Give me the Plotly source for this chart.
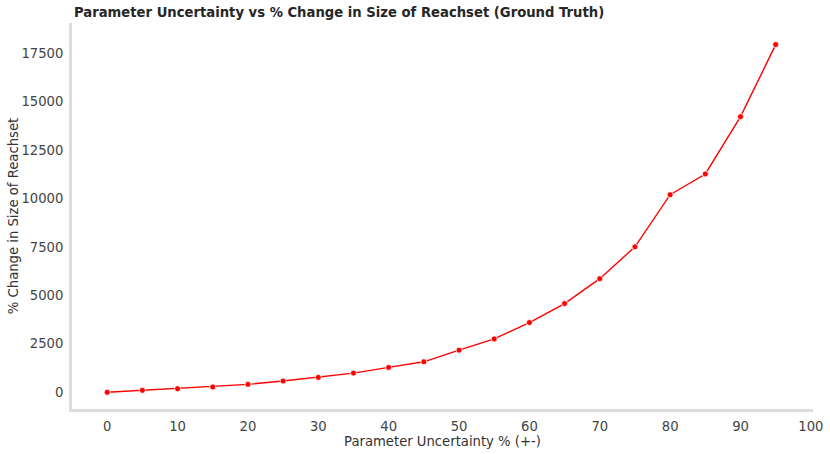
import plotly.graph_objects as go

uncertainty = [0, 5, 10, 15, 20, 25, 30, 35, 40, 45, 50, 55, 60, 65, 70, 75, 80, 85, 90, 95]
pct_change = [0, 100, 185, 275, 410, 580, 770, 990, 1285, 1575, 2175, 2755, 3600, 4580, 5865, 7510, 10200, 11270, 14230, 17950]

x_ticks = [0, 10, 20, 30, 40, 50, 60, 70, 80, 90, 100]
y_ticks = [0, 2500, 5000, 7500, 10000, 12500, 15000, 17500]

fig = go.Figure()
fig.add_trace(go.Scatter(
    x=uncertainty, y=pct_change, mode="lines+markers",
    line=dict(color="red", width=1.4),
    marker=dict(color="red", size=6, line=dict(color="white", width=0.8)),
    showlegend=False,
))

font_family = "DejaVu Sans"
fs = 13.2
fig.update_layout(
    width=830, height=454,
    margin=dict(l=72, r=17, t=23, b=45),
    paper_bgcolor="white", plot_bgcolor="white",
    font=dict(family=font_family, size=fs, color="#333333"),
    title=dict(
        text="<b>Parameter Uncertainty vs % Change in Size of Reachset (Ground Truth)</b>",
        x=74/830, xanchor="left", y=1 - 12.5/454, yanchor="middle",
        font=dict(family=font_family, size=fs, color="#262626"),
    ),
)
fig.update_xaxes(
    range=[-5, 100.3], tickvals=x_ticks, ticktext=[str(v) for v in x_ticks],
    showgrid=False, zeroline=False, showline=True, linewidth=3, linecolor="#dddddd",
    ticks="", ticklabelstandoff=3, automargin=False,
    tickfont=dict(size=fs, color="#444444"),
    title=dict(text="Parameter Uncertainty % (+-)", standoff=4, font=dict(size=fs, color="#333333")),
)
fig.update_yaxes(
    range=[-862, 19064], tickvals=y_ticks, ticktext=[str(v) for v in y_ticks],
    showgrid=False, zeroline=False, showline=True, linewidth=3, linecolor="#dddddd",
    ticks="", ticklabelstandoff=3, automargin=False,
    tickfont=dict(size=fs, color="#444444"),
    title=dict(text="% Change in Size of Reachset", standoff=0, font=dict(size=fs, color="#333333")),
)

fig.write_html("out.html", config={"displayModeBar": False},
               post_script="document.body.style.margin='0';document.body.style.padding='0';")
